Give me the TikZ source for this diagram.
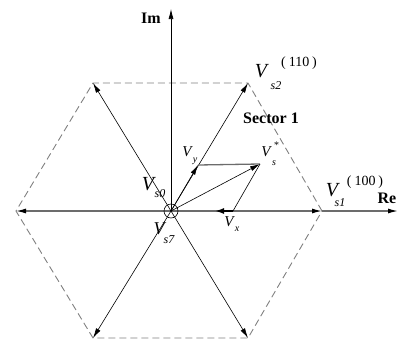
\documentclass[tikz,border=0pt]{standalone}
\usepackage{fontspec}
\setmainfont{Liberation Serif}
\usetikzlibrary{arrows.meta}
\begin{document}
\begin{tikzpicture}[x=1pt,y=-1pt,
  tipk/.style={-{Latex[length=10pt,width=5pt,color=black]}},
  spoke/.style={draw=black, line width=0.6pt, tipk},
  grayline/.style={draw=gray!85!black, line width=1.3pt},
  hexedge/.style={draw=gray, dash pattern=on 7pt off 4pt, line width=0.9pt},
  bigv/.style={inner sep=0pt, font=\fontsize{20}{20}\selectfont\itshape},
  smallv/.style={inner sep=0pt, font=\fontsize{15}{15}\selectfont\itshape},
  subbig/.style={inner sep=0pt, font=\fontsize{12}{12}\selectfont\itshape},
  subsmall/.style={inner sep=0pt, font=\fontsize{10}{10}\selectfont\itshape},
  suptext/.style={inner sep=0pt, font=\fontsize{14}{14}\selectfont},
  axlabel/.style={inner sep=0pt, font=\fontsize{16}{16}\selectfont\bfseries}
]
\useasboundingbox (0,0) rectangle (406,340);
% key points
\coordinate (O) at (171,211);
\coordinate (A1) at (322,211);
\coordinate (A2) at (248,83);
\coordinate (A3) at (93,83);
\coordinate (A4) at (16,211);
\coordinate (A5) at (93,338);
\coordinate (A6) at (248,338);
\coordinate (ReEnd) at (398,211);
\coordinate (ImEnd) at (171,9);
\coordinate (Y) at (198,165);
\coordinate (S) at (260,164);
\coordinate (X) at (233,211);
\coordinate (Xt) at (215,211);
% hexagon
\draw[hexedge] (A1) -- (A2) -- (A3) -- (A4) -- (A5) -- (A6) -- cycle;
% axes
\draw[grayline, tipk] (O) -- (A4);
\draw[grayline, tipk] (O) -- (A1);
\draw[grayline, tipk] (A1) -- (ReEnd);
\draw[line width=0.7pt, tipk] (O) -- (ImEnd);
% spokes
\draw[spoke] (O) -- (A2);
\draw[spoke] (O) -- (A3);
\draw[spoke] (O) -- (A5);
\draw[spoke] (O) -- (A6);
% decomposition
\draw[spoke] (O) -- (Y);
\draw[spoke] (O) -- (S);
\draw[grayline] (Y) -- (S);
\draw[line width=0.6pt] (S) -- (X);
\draw[line width=1.6pt, -{Latex[length=9pt,width=6pt]}] (X) -- (Xt);
\node[draw, circle, minimum size=14pt, inner sep=0pt, line width=0.6pt] (zero) at (O) {};
% labels
\node[axlabel] (im) at (151,18) {Im};
\node[axlabel] (re) at (387,198) {Re};
\node[inner sep=0pt, font=\fontsize{16}{16}\selectfont\bfseries] (sec) at (271,118) {Sector 1};
\node[bigv] (v2) at (261,71) {V};
\node[subbig] (v2s) at (276,86) {s2};
\node[suptext] (v2p) at (299,63) {(\hspace{3pt}110\hspace{3pt})};
\node[bigv] (v1) at (332,190) {V};
\node[subbig] (v1s) at (340,203) {s1};
\node[suptext] (v1p) at (365,182) {(\hspace{3pt}100\hspace{3pt})};
\node[bigv] (v0) at (148,184) {V};
\node[subbig] (v0s) at (160,194) {s0};
\node[font=\fontsize{18}{18}\selectfont\itshape, inner sep=0pt] (v7) at (159,229) {V};
\node[subbig] (v7s) at (169,240) {s7};
\node[smallv] (vy) at (187,152) {V};
\node[subsmall] (vys) at (195,161) {y};
\node[smallv] (vs) at (266,152) {V};
\node[subsmall] (vss) at (274,163) {s};
\node[subsmall] (vst) at (276,145) {*};
\node[smallv] (vx) at (229,222) {V};
\node[subsmall] (vxs) at (237,229) {x};
\end{tikzpicture}
\end{document}
